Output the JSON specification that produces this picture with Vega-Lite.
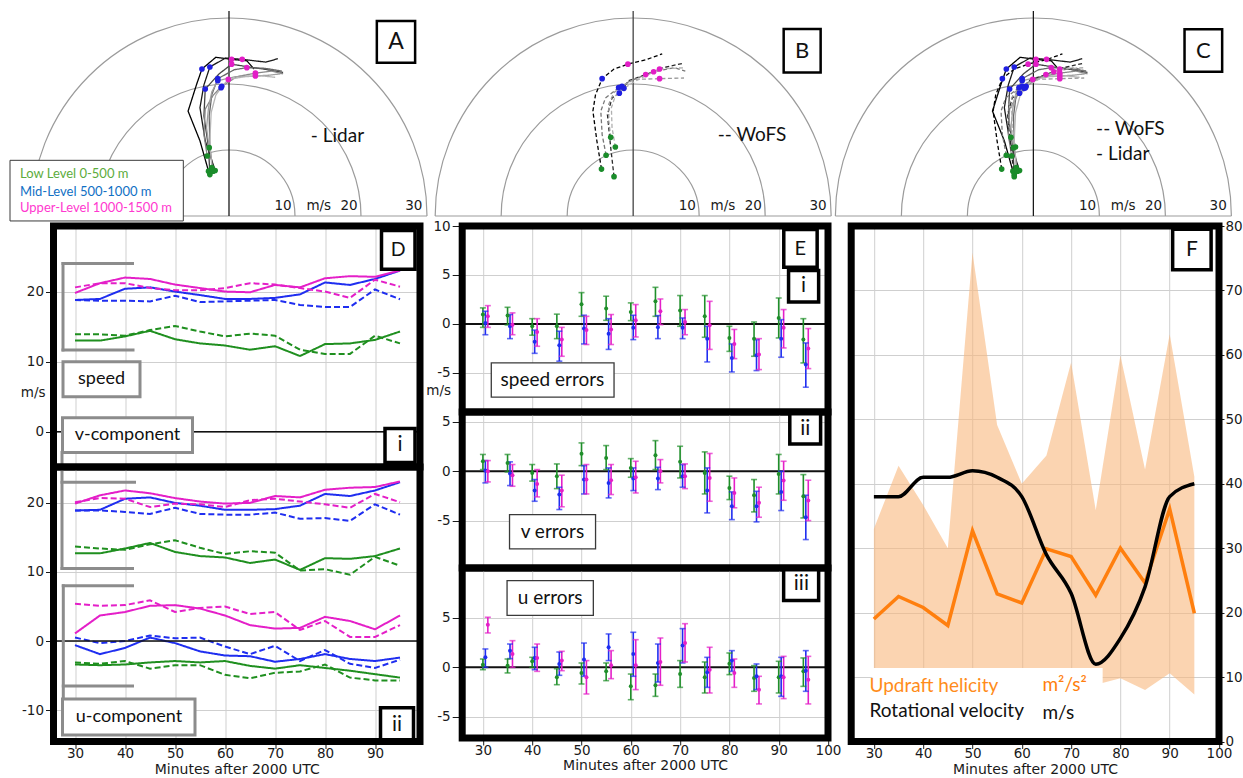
{
"$schema":"https://vega.github.io/schema/vega-lite/v6.json",
"background":"white",
"padding":{"left":9.5,"top":10,"right":0,"bottom":0},
"spacing":-7.3,
"resolve":{"scale":{"color":"independent","fill":"independent","stroke":"independent","opacity":"independent","size":"independent","strokeDash":"independent"}},
"config":{
 "font":"DejaVu Sans",
 "view":{"stroke":null},
 "style":{"cell":{"strokeForeground":true}},
 "axis":{"labelFont":"DejaVu Sans","labelFontSize":13.5,"labelColor":"#1a1a1a","labelFlush":false,"titleFont":"DejaVu Sans","titleFontSize":14,"titleFontWeight":"normal","titleColor":"#1a1a1a","gridColor":"#cfcfcf","gridWidth":1,"tickColor":"#1a1a1a","tickWidth":1,"domain":false},
 "text":{"font":"Lato"}
},
"datasets":{
 "rings":[{"u":0,"v":0,"r":10},{"u":0,"v":0,"r":20},{"u":0,"v":0,"r":30}],
 "hlab":[{"u":8.2,"v":1.45,"s":"10"},{"u":13.6,"v":1.45,"s":"m/s"},{"u":18.2,"v":1.45,"s":"20"},{"u":28.0,"v":1.45,"s":"30"}],
 "hodo":[
  {"tr":"L1","src":"L","k":0,"u":-3.1,"v":6.5,"lvl":"low"},{"tr":"L1","src":"L","k":1,"u":-4.4,"v":10.9},{"tr":"L1","src":"L","k":2,"u":-6.2,"v":15.2},{"tr":"L1","src":"L","k":3,"u":-4.9,"v":19.1},{"tr":"L1","src":"L","k":4,"u":-4.1,"v":21.3,"lvl":"mid"},{"tr":"L1","src":"L","k":5,"u":-2.0,"v":23.0},{"tr":"L1","src":"L","k":6,"u":0.4,"v":22.7,"lvl":"up"},{"tr":"L1","src":"L","k":7,"u":2.7,"v":22.5},{"tr":"L1","src":"L","k":8,"u":3.8,"v":21.3},
  {"tr":"L2","src":"L","k":0,"u":-2.1,"v":6.6,"lvl":"low"},{"tr":"L2","src":"L","k":1,"u":-3.6,"v":10.9},{"tr":"L2","src":"L","k":2,"u":-4.4,"v":15.7},{"tr":"L2","src":"L","k":3,"u":-3.8,"v":19.0},{"tr":"L2","src":"L","k":4,"u":-2.9,"v":21.6,"lvl":"mid"},{"tr":"L2","src":"L","k":5,"u":-0.5,"v":22.9},{"tr":"L2","src":"L","k":6,"u":2.0,"v":22.7,"lvl":"up"},{"tr":"L2","src":"L","k":7,"u":5.6,"v":22.3},{"tr":"L2","src":"L","k":8,"u":7.4,"v":22.8},
  {"tr":"L3","src":"L","k":0,"u":-2.9,"v":6.0,"lvl":"low"},{"tr":"L3","src":"L","k":1,"u":-3.1,"v":9.9},{"tr":"L3","src":"L","k":2,"u":-3.8,"v":14.5},{"tr":"L3","src":"L","k":3,"u":-3.6,"v":18.4,"lvl":"mid"},{"tr":"L3","src":"L","k":4,"u":-1.5,"v":20.6},{"tr":"L3","src":"L","k":5,"u":0.4,"v":22.0,"lvl":"up"},{"tr":"L3","src":"L","k":6,"u":3.0,"v":21.6},{"tr":"L3","src":"L","k":7,"u":5.2,"v":21.3},{"tr":"L3","src":"L","k":8,"u":8.2,"v":20.8},
  {"tr":"L4","src":"L","k":0,"u":-2.4,"v":6.5,"lvl":"low"},{"tr":"L4","src":"L","k":1,"u":-2.9,"v":9.9},{"tr":"L4","src":"L","k":2,"u":-3.0,"v":14.5},{"tr":"L4","src":"L","k":3,"u":-2.6,"v":17.6},{"tr":"L4","src":"L","k":4,"u":-1.7,"v":19.9,"lvl":"mid"},{"tr":"L4","src":"L","k":5,"u":0.8,"v":21.2},{"tr":"L4","src":"L","k":6,"u":2.7,"v":21.5,"lvl":"up"},{"tr":"L4","src":"L","k":7,"u":5.5,"v":21.4},{"tr":"L4","src":"L","k":8,"u":8.0,"v":21.0},
  {"tr":"L5","src":"L","k":0,"u":-3.3,"v":8.7,"lvl":"low"},{"tr":"L5","src":"L","k":1,"u":-3.8,"v":11.8},{"tr":"L5","src":"L","k":2,"u":-3.6,"v":15.5},{"tr":"L5","src":"L","k":3,"u":-2.4,"v":17.5},{"tr":"L5","src":"L","k":4,"u":-1.1,"v":18.8,"lvl":"mid"},{"tr":"L5","src":"L","k":5,"u":1.2,"v":20.2},{"tr":"L5","src":"L","k":6,"u":4.0,"v":20.7,"lvl":"up"},{"tr":"L5","src":"L","k":7,"u":6.5,"v":21.0},{"tr":"L5","src":"L","k":8,"u":8.2,"v":20.6},
  {"tr":"L6","src":"L","k":0,"u":-3.0,"v":9.9,"lvl":"low"},{"tr":"L6","src":"L","k":1,"u":-3.4,"v":12.8},{"tr":"L6","src":"L","k":2,"u":-3.1,"v":15.7},{"tr":"L6","src":"L","k":3,"u":-2.6,"v":18.0},{"tr":"L6","src":"L","k":4,"u":-1.7,"v":19.6,"lvl":"mid"},{"tr":"L6","src":"L","k":5,"u":1.0,"v":20.2},{"tr":"L6","src":"L","k":6,"u":4.0,"v":20.3,"lvl":"up"},{"tr":"L6","src":"L","k":7,"u":6.0,"v":20.4},{"tr":"L6","src":"L","k":8,"u":7.8,"v":20.6},
  {"tr":"L7","src":"L","k":0,"u":-2.6,"v":7.0,"lvl":"low"},{"tr":"L7","src":"L","k":1,"u":-2.9,"v":11.0},{"tr":"L7","src":"L","k":2,"u":-2.7,"v":15.0},{"tr":"L7","src":"L","k":3,"u":-2.0,"v":17.5},{"tr":"L7","src":"L","k":4,"u":-1.2,"v":18.6,"lvl":"mid"},{"tr":"L7","src":"L","k":5,"u":-0.1,"v":19.8,"lvl":"up"},{"tr":"L7","src":"L","k":6,"u":2.5,"v":20.2},{"tr":"L7","src":"L","k":7,"u":5.0,"v":20.3},{"tr":"L7","src":"L","k":8,"u":7.0,"v":20.1},
  {"tr":"W1","src":"W","k":0,"u":-4.8,"v":6.8,"lvl":"low"},{"tr":"W1","src":"W","k":1,"u":-5.5,"v":10.9},{"tr":"W1","src":"W","k":2,"u":-6.1,"v":15.2},{"tr":"W1","src":"W","k":3,"u":-5.7,"v":17.6},{"tr":"W1","src":"W","k":4,"u":-4.7,"v":19.9,"lvl":"mid"},{"tr":"W1","src":"W","k":5,"u":-2.9,"v":21.3},{"tr":"W1","src":"W","k":6,"u":-0.8,"v":22.0,"lvl":"up"},{"tr":"W1","src":"W","k":7,"u":2.1,"v":22.7},{"tr":"W1","src":"W","k":8,"u":4.4,"v":23.5},
  {"tr":"W2","src":"W","k":0,"u":-2.9,"v":5.7,"lvl":"low"},{"tr":"W2","src":"W","k":1,"u":-3.4,"v":9.9},{"tr":"W2","src":"W","k":2,"u":-3.9,"v":14.7},{"tr":"W2","src":"W","k":3,"u":-3.2,"v":17.1},{"tr":"W2","src":"W","k":4,"u":-2.1,"v":17.8,"lvl":"mid"},{"tr":"W2","src":"W","k":5,"u":-0.7,"v":19.6},{"tr":"W2","src":"W","k":6,"u":1.9,"v":20.5,"lvl":"up"},{"tr":"W2","src":"W","k":7,"u":4.6,"v":21.5},{"tr":"W2","src":"W","k":8,"u":7.4,"v":22.1},
  {"tr":"W3","src":"W","k":0,"u":-4.1,"v":8.8,"lvl":"low"},{"tr":"W3","src":"W","k":1,"u":-4.7,"v":11.8},{"tr":"W3","src":"W","k":2,"u":-4.9,"v":15.2},{"tr":"W3","src":"W","k":3,"u":-4.2,"v":17.1},{"tr":"W3","src":"W","k":4,"u":-2.2,"v":18.6,"lvl":"mid"},{"tr":"W3","src":"W","k":5,"u":-0.4,"v":19.6},{"tr":"W3","src":"W","k":6,"u":3.1,"v":20.9,"lvl":"up"},{"tr":"W3","src":"W","k":7,"u":6.2,"v":21.5},{"tr":"W3","src":"W","k":8,"u":7.9,"v":21.0},
  {"tr":"W4","src":"W","k":0,"u":-3.4,"v":11.4,"lvl":"low"},{"tr":"W4","src":"W","k":1,"u":-3.7,"v":13.8},{"tr":"W4","src":"W","k":2,"u":-3.7,"v":16.2},{"tr":"W4","src":"W","k":3,"u":-2.9,"v":17.9},{"tr":"W4","src":"W","k":4,"u":-1.7,"v":18.8,"lvl":"mid"},{"tr":"W4","src":"W","k":5,"u":0.1,"v":19.8},{"tr":"W4","src":"W","k":6,"u":4.0,"v":19.9,"lvl":"up"},{"tr":"W4","src":"W","k":7,"u":7.7,"v":20.0},
  {"tr":"W5","src":"W","k":0,"u":-2.7,"v":10.0,"lvl":"low"},{"tr":"W5","src":"W","k":1,"u":-3.2,"v":12.8},{"tr":"W5","src":"W","k":2,"u":-3.3,"v":15.7},{"tr":"W5","src":"W","k":3,"u":-2.7,"v":17.4},{"tr":"W5","src":"W","k":4,"u":-1.4,"v":18.5,"lvl":"mid"},{"tr":"W5","src":"W","k":5,"u":0.4,"v":19.6},{"tr":"W5","src":"W","k":6,"u":4.0,"v":21.3,"lvl":"up"},{"tr":"W5","src":"W","k":7,"u":7.9,"v":21.5}
 ],
 "dd":[
  {"c":"s","t":30,"gL":13.0,"gW":13.9,"bL":18.8,"bW":18.8,"mL":19.8,"mW":20.6},
  {"c":"s","t":35,"gL":13.0,"gW":13.9,"bL":18.95,"bW":18.7,"mL":21.2,"mW":21.2},
  {"c":"s","t":40,"gL":13.6,"gW":13.7,"bL":20.4,"bW":18.7,"mL":22.0,"mW":21.2},
  {"c":"s","t":45,"gL":14.4,"gW":14.5,"bL":20.6,"bW":18.6,"mL":21.8,"mW":20.5},
  {"c":"s","t":50,"gL":13.2,"gW":15.1,"bL":20.0,"bW":19.4,"mL":21.0,"mW":20.2},
  {"c":"s","t":55,"gL":12.6,"gW":14.3,"bL":19.5,"bW":18.5,"mL":20.5,"mW":20.2},
  {"c":"s","t":60,"gL":12.3,"gW":13.6,"bL":18.95,"bW":18.6,"mL":20.0,"mW":20.5},
  {"c":"s","t":65,"gL":11.7,"gW":14.0,"bL":18.95,"bW":18.7,"mL":19.9,"mW":21.2},
  {"c":"s","t":70,"gL":12.2,"gW":13.7,"bL":19.1,"bW":18.8,"mL":20.95,"mW":21.0},
  {"c":"s","t":75,"gL":10.8,"gW":11.7,"bL":19.6,"bW":18.1,"mL":20.6,"mW":20.5},
  {"c":"s","t":80,"gL":12.5,"gW":11.1,"bL":21.3,"bW":17.8,"mL":21.9,"mW":20.0},
  {"c":"s","t":85,"gL":12.6,"gW":11.1,"bL":20.95,"bW":17.8,"mL":22.2,"mW":19.1},
  {"c":"s","t":90,"gL":13.1,"gW":13.7,"bL":21.8,"bW":20.3,"mL":22.1,"mW":21.7},
  {"c":"s","t":95,"gL":14.3,"gW":12.6,"bL":23.0,"bW":18.9,"mL":23.0,"mW":20.7},
  {"c":"v","t":30,"gL":12.7,"gW":13.7,"bL":18.9,"bW":18.9,"mL":19.9,"mW":20.1},
  {"c":"v","t":35,"gL":12.7,"gW":13.4,"bL":19.0,"bW":18.9,"mL":21.1,"mW":20.7},
  {"c":"v","t":40,"gL":13.4,"gW":13.2,"bL":20.6,"bW":18.7,"mL":21.8,"mW":20.6},
  {"c":"v","t":45,"gL":14.2,"gW":14.0,"bL":20.8,"bW":18.4,"mL":21.4,"mW":19.4},
  {"c":"v","t":50,"gL":12.9,"gW":14.6,"bL":20.0,"bW":19.3,"mL":20.7,"mW":19.9},
  {"c":"v","t":55,"gL":12.3,"gW":13.5,"bL":19.6,"bW":18.4,"mL":20.2,"mW":19.8},
  {"c":"v","t":60,"gL":12.1,"gW":12.6,"bL":19.0,"bW":18.3,"mL":19.9,"mW":19.4},
  {"c":"v","t":65,"gL":11.3,"gW":13.0,"bL":19.0,"bW":18.3,"mL":20.0,"mW":20.4},
  {"c":"v","t":70,"gL":11.8,"gW":12.8,"bL":19.1,"bW":18.6,"mL":21.0,"mW":20.6},
  {"c":"v","t":75,"gL":10.3,"gW":10.2,"bL":19.6,"bW":17.7,"mL":20.8,"mW":20.2},
  {"c":"v","t":80,"gL":12.0,"gW":10.4,"bL":21.3,"bW":17.8,"mL":21.9,"mW":19.8},
  {"c":"v","t":85,"gL":11.9,"gW":9.6,"bL":21.0,"bW":17.4,"mL":22.2,"mW":19.3},
  {"c":"v","t":90,"gL":12.3,"gW":12.2,"bL":21.8,"bW":19.8,"mL":22.3,"mW":21.3},
  {"c":"v","t":95,"gL":13.4,"gW":10.9,"bL":23.0,"bW":18.3,"mL":23.1,"mW":20.1},
  {"c":"u","t":30,"gL":-3.4,"gW":-3.1,"bL":-0.6,"bW":0.5,"mL":1.1,"mW":5.4},
  {"c":"u","t":35,"gL":-3.5,"gW":-3.3,"bL":-1.9,"bW":-0.3,"mL":3.7,"mW":5.1},
  {"c":"u","t":40,"gL":-3.4,"gW":-2.9,"bL":-1.0,"bW":0.0,"mL":4.2,"mW":5.2},
  {"c":"u","t":45,"gL":-3.1,"gW":-4.0,"bL":0.5,"bW":0.8,"mL":5.1,"mW":5.9},
  {"c":"u","t":50,"gL":-2.9,"gW":-3.5,"bL":-0.3,"bW":0.4,"mL":5.2,"mW":4.2},
  {"c":"u","t":55,"gL":-3.1,"gW":-3.5,"bL":-1.5,"bW":0.5,"mL":4.7,"mW":4.8},
  {"c":"u","t":60,"gL":-2.9,"gW":-4.9,"bL":-2.1,"bW":-0.8,"mL":3.7,"mW":5.0},
  {"c":"u","t":65,"gL":-3.6,"gW":-5.4,"bL":-2.2,"bW":-1.9,"mL":2.3,"mW":3.9},
  {"c":"u","t":70,"gL":-4.0,"gW":-4.6,"bL":-3.0,"bW":-0.7,"mL":1.8,"mW":4.2},
  {"c":"u","t":75,"gL":-3.5,"gW":-4.4,"bL":-2.6,"bW":-2.9,"mL":1.9,"mW":1.6},
  {"c":"u","t":80,"gL":-3.9,"gW":-3.4,"bL":-1.9,"bW":-1.3,"mL":3.5,"mW":2.9},
  {"c":"u","t":85,"gL":-4.3,"gW":-5.3,"bL":-2.6,"bW":-3.3,"mL":2.9,"mW":0.6},
  {"c":"u","t":90,"gL":-4.8,"gW":-5.7,"bL":-2.9,"bW":-3.9,"mL":1.7,"mW":0.6},
  {"c":"u","t":95,"gL":-5.3,"gW":-5.7,"bL":-2.4,"bW":-2.7,"mL":3.7,"mW":2.3}
 ],
 "ee":[
  {"p":"s","t":30,"c":"g","m":0.96,"h":1.64,"l":-0.35},{"p":"s","t":30.5,"c":"b","m":0.1,"h":1.3,"l":-1.1},{"p":"s","t":31,"c":"m","m":0.78,"h":1.87,"l":-0.35},
  {"p":"s","t":35,"c":"g","m":0.85,"h":1.7,"l":-0.1},{"p":"s","t":35.5,"c":"b","m":-0.24,"h":0.96,"l":-1.5},{"p":"s","t":36,"c":"m","m":-0.07,"h":1.13,"l":-1.1},
  {"p":"s","t":40,"c":"g","m":-0.24,"h":0.54,"l":-1.15},{"p":"s","t":40.5,"c":"b","m":-1.83,"h":-0.63,"l":-3.0},{"p":"s","t":41,"c":"m","m":-0.82,"h":0.54,"l":-2.28},
  {"p":"s","t":45,"c":"g","m":-0.24,"h":1.0,"l":-1.5},{"p":"s","t":45.5,"c":"b","m":-2.17,"h":-0.74,"l":-3.8},{"p":"s","t":46,"c":"m","m":-1.6,"h":-0.35,"l":-3.3},
  {"p":"s","t":50,"c":"g","m":2.0,"h":3.2,"l":0.78},{"p":"s","t":50.5,"c":"b","m":-0.47,"h":0.89,"l":-2.04},{"p":"s","t":51,"c":"m","m":-0.63,"h":0.78,"l":-2.1},
  {"p":"s","t":55,"c":"g","m":1.57,"h":2.83,"l":0.37},{"p":"s","t":55.5,"c":"b","m":-1.0,"h":0.54,"l":-2.6},{"p":"s","t":56,"c":"m","m":-0.56,"h":0.96,"l":-2.1},
  {"p":"s","t":60,"c":"g","m":1.23,"h":2.15,"l":0.34},{"p":"s","t":60.5,"c":"b","m":-0.4,"h":0.89,"l":-1.6},{"p":"s","t":61,"c":"m","m":0.37,"h":1.98,"l":-1.33},
  {"p":"s","t":65,"c":"g","m":2.31,"h":3.74,"l":0.78},{"p":"s","t":65.5,"c":"b","m":-0.35,"h":0.85,"l":-1.5},{"p":"s","t":66,"c":"m","m":1.3,"h":2.55,"l":-0.07},
  {"p":"s","t":70,"c":"g","m":1.37,"h":2.9,"l":-0.24},{"p":"s","t":70.5,"c":"b","m":-0.4,"h":0.61,"l":-1.5},{"p":"s","t":71,"c":"m","m":0.2,"h":1.47,"l":-1.1},
  {"p":"s","t":75,"c":"g","m":0.78,"h":2.9,"l":-1.36},{"p":"s","t":75.5,"c":"b","m":-1.5,"h":-0.24,"l":-3.88},{"p":"s","t":76,"c":"m","m":-0.14,"h":2.31,"l":-2.6},
  {"p":"s","t":80,"c":"g","m":-1.43,"h":-0.24,"l":-2.8},{"p":"s","t":80.5,"c":"b","m":-3.47,"h":-2.04,"l":-4.9},{"p":"s","t":81,"c":"m","m":-2.04,"h":-0.56,"l":-3.54},
  {"p":"s","t":85,"c":"g","m":-1.5,"h":0.2,"l":-3.3},{"p":"s","t":85.5,"c":"b","m":-3.2,"h":-1.6,"l":-4.76},{"p":"s","t":86,"c":"m","m":-3.13,"h":-1.5,"l":-4.66},
  {"p":"s","t":90,"c":"g","m":0.61,"h":2.65,"l":-1.43},{"p":"s","t":90.5,"c":"b","m":-1.5,"h":0.44,"l":-3.4},{"p":"s","t":91,"c":"m","m":-0.4,"h":1.47,"l":-2.45},
  {"p":"s","t":95,"c":"g","m":-1.6,"h":0.54,"l":-3.98},{"p":"s","t":95.5,"c":"b","m":-4.15,"h":-1.94,"l":-6.46},{"p":"s","t":96,"c":"m","m":-2.51,"h":-0.47,"l":-4.56},
  {"p":"v","t":30,"c":"g","m":1.01,"h":1.7,"l":0.17},{"p":"v","t":30.5,"c":"b","m":0.07,"h":1.08,"l":-1.18},{"p":"v","t":31,"c":"m","m":0,"h":1.08,"l":-1.08},
  {"p":"v","t":35,"c":"g","m":0.84,"h":1.7,"l":-0.07},{"p":"v","t":35.5,"c":"b","m":-0.24,"h":0.95,"l":-1.45},{"p":"v","t":36,"c":"m","m":-0.4,"h":0.68,"l":-1.52},
  {"p":"v","t":40,"c":"g","m":-0.17,"h":0.68,"l":-1.0},{"p":"v","t":40.5,"c":"b","m":-1.96,"h":-0.84,"l":-3.04},{"p":"v","t":41,"c":"m","m":-1.28,"h":0.17,"l":-2.6},
  {"p":"v","t":45,"c":"g","m":-0.5,"h":0.74,"l":-1.76},{"p":"v","t":45.5,"c":"b","m":-2.36,"h":-1.62,"l":-3.88},{"p":"v","t":46,"c":"m","m":-1.96,"h":-0.4,"l":-3.6},
  {"p":"v","t":50,"c":"g","m":1.76,"h":2.87,"l":0.57},{"p":"v","t":50.5,"c":"b","m":-0.84,"h":0.57,"l":-2.3},{"p":"v","t":51,"c":"m","m":-0.84,"h":0.68,"l":-2.3},
  {"p":"v","t":55,"c":"g","m":1.35,"h":2.6,"l":0.17},{"p":"v","t":55.5,"c":"b","m":-1.18,"h":0.34,"l":-2.7},{"p":"v","t":56,"c":"m","m":-0.91,"h":0.68,"l":-2.36},
  {"p":"v","t":60,"c":"g","m":0.34,"h":1.28,"l":-0.61},{"p":"v","t":60.5,"c":"b","m":-0.74,"h":0.34,"l":-1.96},{"p":"v","t":61,"c":"m","m":-0.61,"h":1.01,"l":-2.2},
  {"p":"v","t":65,"c":"g","m":1.62,"h":3.1,"l":0.17},{"p":"v","t":65.5,"c":"b","m":-0.74,"h":0.4,"l":-1.86},{"p":"v","t":66,"c":"m","m":0,"h":1.18,"l":-1.18},
  {"p":"v","t":70,"c":"g","m":0.95,"h":2.53,"l":-0.68},{"p":"v","t":70.5,"c":"b","m":-0.5,"h":0.68,"l":-1.62},{"p":"v","t":71,"c":"m","m":-0.5,"h":0.74,"l":-1.76},
  {"p":"v","t":75,"c":"g","m":-0.17,"h":1.96,"l":-2.3},{"p":"v","t":75.5,"c":"b","m":-1.96,"h":0.34,"l":-4.22},{"p":"v","t":76,"c":"m","m":-0.68,"h":1.8,"l":-3.04},
  {"p":"v","t":80,"c":"g","m":-1.69,"h":-0.5,"l":-2.87},{"p":"v","t":80.5,"c":"b","m":-3.55,"h":-2.09,"l":-4.9},{"p":"v","t":81,"c":"m","m":-2.2,"h":-0.68,"l":-3.7},
  {"p":"v","t":85,"c":"g","m":-2.43,"h":-0.84,"l":-4.12},{"p":"v","t":85.5,"c":"b","m":-3.55,"h":-2.03,"l":-5.13},{"p":"v","t":86,"c":"m","m":-3.2,"h":-1.62,"l":-4.66},
  {"p":"v","t":90,"c":"g","m":-0.27,"h":1.7,"l":-2.3},{"p":"v","t":90.5,"c":"b","m":-2.09,"h":0,"l":-3.98},{"p":"v","t":91,"c":"m","m":-0.95,"h":1.01,"l":-2.94},
  {"p":"v","t":95,"c":"g","m":-2.53,"h":-0.34,"l":-4.73},{"p":"v","t":95.5,"c":"b","m":-4.66,"h":-2.43,"l":-6.92},{"p":"v","t":96,"c":"m","m":-2.97,"h":-0.91,"l":-5.0},
  {"p":"u","t":30,"c":"g","m":0.27,"h":0.84,"l":-0.24},{"p":"u","t":30.5,"c":"b","m":1.01,"h":1.86,"l":0},{"p":"u","t":31,"c":"m","m":4.32,"h":5.07,"l":3.48},
  {"p":"u","t":35,"c":"g","m":0.17,"h":0.84,"l":-0.57},{"p":"u","t":35.5,"c":"b","m":1.69,"h":2.36,"l":0.88},{"p":"u","t":36,"c":"m","m":1.35,"h":2.7,"l":0},
  {"p":"u","t":40,"c":"g","m":0.61,"h":1.01,"l":0},{"p":"u","t":40.5,"c":"b","m":0.95,"h":2.03,"l":-0.24},{"p":"u","t":41,"c":"m","m":0.95,"h":2.36,"l":-0.41},
  {"p":"u","t":45,"c":"g","m":-1.01,"h":-0.14,"l":-1.76},{"p":"u","t":45.5,"c":"b","m":0.34,"h":1.55,"l":-0.81},{"p":"u","t":46,"c":"m","m":0.68,"h":1.62,"l":-0.34},
  {"p":"u","t":50,"c":"g","m":-0.57,"h":0.44,"l":-1.69},{"p":"u","t":50.5,"c":"b","m":0.78,"h":2.46,"l":-0.91},{"p":"u","t":51,"c":"m","m":-1.01,"h":0.68,"l":-2.7},
  {"p":"u","t":55,"c":"g","m":-0.41,"h":0.44,"l":-1.35},{"p":"u","t":55.5,"c":"b","m":2.03,"h":3.38,"l":0.68},{"p":"u","t":56,"c":"m","m":0.2,"h":1.69,"l":-1.15},
  {"p":"u","t":60,"c":"g","m":-1.93,"h":-0.68,"l":-3.28},{"p":"u","t":60.5,"c":"b","m":1.35,"h":3.55,"l":-0.91},{"p":"u","t":61,"c":"m","m":0.2,"h":2.8,"l":-2.26},
  {"p":"u","t":65,"c":"g","m":-1.82,"h":-0.68,"l":-2.94},{"p":"u","t":65.5,"c":"b","m":0.44,"h":2.36,"l":-1.49},{"p":"u","t":66,"c":"m","m":0.54,"h":2.97,"l":-1.82},
  {"p":"u","t":70,"c":"g","m":-0.68,"h":0.68,"l":-2.03},{"p":"u","t":70.5,"c":"b","m":2.2,"h":3.92,"l":0.44},{"p":"u","t":71,"c":"m","m":2.46,"h":4.42,"l":0.54},
  {"p":"u","t":75,"c":"g","m":-1.01,"h":0.54,"l":-2.6},{"p":"u","t":75.5,"c":"b","m":-0.51,"h":1.01,"l":-2.03},{"p":"u","t":76,"c":"m","m":-0.24,"h":2.03,"l":-2.6},
  {"p":"u","t":80,"c":"g","m":0.37,"h":1.45,"l":-0.74},{"p":"u","t":80.5,"c":"b","m":0.68,"h":1.69,"l":-0.41},{"p":"u","t":81,"c":"m","m":-0.57,"h":0.84,"l":-2.03},
  {"p":"u","t":85,"c":"g","m":-1.08,"h":0.17,"l":-2.43},{"p":"u","t":85.5,"c":"b","m":-0.91,"h":0.34,"l":-2.26},{"p":"u","t":86,"c":"m","m":-2.26,"h":-0.91,"l":-3.71},
  {"p":"u","t":90,"c":"g","m":-1.01,"h":0.61,"l":-2.6},{"p":"u","t":90.5,"c":"b","m":-0.91,"h":1.01,"l":-2.94},{"p":"u","t":91,"c":"m","m":-1.01,"h":1.11,"l":-3.17},
  {"p":"u","t":95,"c":"g","m":-0.41,"h":0.95,"l":-1.93},{"p":"u","t":95.5,"c":"b","m":-0.34,"h":1.69,"l":-2.43},{"p":"u","t":96,"c":"m","m":-1.25,"h":1.11,"l":-3.71}
 ],
 "ff":[
  {"t":30,"rv":38,"uh":19.0,"lo":11,"hi":33.0},{"t":35,"rv":38,"uh":22.5,"lo":11,"hi":42.8},{"t":40,"rv":41,"uh":20.8,"lo":10,"hi":36.7},{"t":45,"rv":41,"uh":18.0,"lo":11,"hi":30.0},{"t":50,"rv":42,"uh":32.7,"lo":10,"hi":75.9},{"t":55,"rv":41,"uh":22.9,"lo":10,"hi":49.1},{"t":60,"rv":38,"uh":21.5,"lo":10,"hi":40.0},{"t":65,"rv":29,"uh":29.9,"lo":11,"hi":44.4},{"t":70,"rv":23,"uh":28.7,"lo":10,"hi":58.8},{"t":75,"rv":12,"uh":22.7,"lo":8.8,"hi":35.9},{"t":80,"rv":16,"uh":30.0,"lo":9.8,"hi":59.9},{"t":85,"rv":24,"uh":24.6,"lo":8.0,"hi":42.2},{"t":90,"rv":38,"uh":36.1,"lo":10.6,"hi":63.2},{"t":95,"rv":40,"uh":19.9,"lo":7.3,"hi":41.1}
 ]
},
"hconcat":[
 {"vconcat":[
  {"width":373.5,"height":214.5,
   "encoding":{"x":{"field":"u","type":"quantitative","scale":{"domain":[-26.59,30],"nice":false,"zero":false},"axis":null},"y":{"field":"v","type":"quantitative","scale":{"domain":[-1.377,29.71],"nice":false,"zero":false},"axis":null}},
   "layer":[
    {"data":{"name":"rings"},"mark":{"type":"arc","theta":-1.5708,"theta2":1.5708,"filled":false,"stroke":"#9b9b9b","strokeWidth":1.2},"encoding":{"radius":{"field":"r","type":"quantitative","scale":{"type":"linear","domain":[0,30],"range":[0,198],"zero":true}},"radius2":{"field":"r"}}},
    {"data":{"values":[{"u":-30,"u2":30,"v":0}]},"mark":{"type":"rule","stroke":"#9b9b9b","strokeWidth":1.2},"encoding":{"x2":{"field":"u2"}}},
    {"data":{"values":[{"u":0,"v":0,"v2":29.71}]},"mark":{"type":"rule","stroke":"#1a1a1a","strokeWidth":1.3},"encoding":{"y2":{"field":"v2"}}},
    {"data":{"name":"hodo"},"transform":[{"filter":"datum.src=='L'"}],"mark":{"type":"line","strokeWidth":1.3},"encoding":{"detail":{"field":"tr","type":"nominal"},"order":{"field":"k","type":"quantitative"},"stroke":{"field":"tr","type":"nominal","scale":{"domain":["L1","L2","L3","L4","L5","L6","L7","W1","W2","W3","W4","W5"],"range":["#000000","#1a1a1a","#444444","#666666","#888888","#a0a0a0","#b5b5b5","#000000","#2a2a2a","#777777","#9a9a9a","#b0b0b0"]},"legend":null},"strokeDash":{"field":"src","type":"nominal","scale":{"domain":["L","W"],"range":[[1,0],[4,2.5]]},"legend":null}}},
    {"data":{"name":"hodo"},"transform":[{"filter":"datum.src=='L' && datum.lvl"}],"mark":{"type":"point","filled":true,"size":32,"strokeWidth":0},"encoding":{"fill":{"field":"lvl","type":"nominal","scale":{"domain":["low","mid","up"],"range":["#1a8c2a","#1f1fe0","#e21ec6"]},"legend":null},"opacity":{"field":"tr","type":"ordinal","scale":{"domain":["L1","L2","L3","L4","L5","L6","L7","W1","W2","W3","W4","W5"],"range":[1,1,0.95,0.55,0.5,0.45,0.45,1,1,0.55,0.5,0.45]},"legend":null}}},
    {"data":{"name":"hlab"},"mark":{"type":"text","font":"DejaVu Sans","fontSize":13.5,"color":"#1a1a1a","baseline":"middle"},"encoding":{"text":{"field":"s"}}},
    {"data":{"values":[{"u":12.4,"v":11.6,"s":"- Lidar"}]},"mark":{"type":"text","fontSize":19,"align":"left","baseline":"middle","color":"#111111"},"encoding":{"text":{"field":"s"}}},
    {"data":{"values":[{"u":22.4,"u2":28.2,"v":22.2,"v2":28.26}]},"mark":{"type":"rect","fill":"white","stroke":"black","strokeWidth":2.5},"encoding":{"x2":{"field":"u2"},"y2":{"field":"v2"}}},
    {"data":{"values":[{"u":25.3,"v":25.2,"s":"A"}]},"mark":{"type":"text","fontSize":23,"baseline":"middle","color":"#111111"},"encoding":{"text":{"field":"s"}}},
    {"data":{"values":[{"u":-33.18,"u2":-6.92,"v":-0.72,"v2":8.07}]},"mark":{"type":"rect","fill":"white","stroke":"#3a3a3a","strokeWidth":1},"encoding":{"x2":{"field":"u2"},"y2":{"field":"v2"}}},
    {"data":{"values":[{"u":-31.67,"v":6.04,"s":"Low Level 0-500 m","c":"a"},{"u":-31.67,"v":3.52,"s":"Mid-Level 500-1000 m","c":"b"},{"u":-31.67,"v":1.11,"s":"Upper-Level 1000-1500 m","c":"c"}]},"mark":{"type":"text","fontSize":13,"align":"left","baseline":"middle"},"encoding":{"text":{"field":"s"},"color":{"field":"c","type":"nominal","scale":{"domain":["a","b","c"],"range":["#5cac3c","#1070c4","#ff38cf"]},"legend":null}}}
   ]},
  {"width":366.5,"height":241,"view":{"stroke":"black","strokeWidth":7},
   "layer":[
    {"data":{"name":"dd"},"transform":[{"filter":"datum.c=='s'"},{"fold":["gL","gW","bL","bW","mL","mW"],"as":["k","val"]}],"mark":{"type":"line","strokeWidth":2},
     "encoding":{
      "x":{"field":"t","type":"quantitative","scale":{"domain":[25.7,99],"nice":false,"zero":false},"axis":{"values":[30,40,50,60,70,80,90],"grid":true,"labels":false,"ticks":false,"title":null}},
      "y":{"field":"val","type":"quantitative","scale":{"domain":[-5.04,29.36],"nice":false,"zero":false},"axis":{"values":[0,10,20],"grid":true,"tickSize":8,"labelPadding":2,"title":"m/s","titleAngle":0,"titleAlign":"right","titleBaseline":"middle","titleX":-8.5,"titleY":166.5,"titleFontSize":13.5}},
      "color":{"field":"k","type":"nominal","scale":{"domain":["gL","gW","bL","bW","mL","mW"],"range":["#1f8f1f","#1f8f1f","#1f2ef0","#1f2ef0","#e41fc8","#e41fc8"]},"legend":null},
      "strokeDash":{"field":"k","type":"nominal","scale":{"domain":["gL","gW","bL","bW","mL","mW"],"range":[[1,0],[6,3],[1,0],[6,3],[1,0],[6,3]]},"legend":null}}},
    {"data":{"values":[{"t":25.7,"t2":99,"val":0}]},"mark":{"type":"rule","stroke":"#111111","strokeWidth":1.5},"encoding":{"x":{"field":"t","type":"quantitative"},"x2":{"field":"t2"},"y":{"field":"val","type":"quantitative"}}},
    {"data":{"values":[{"t":27.6,"t2":27.6,"val":24.0,"val2":11.67},{"t":27.6,"t2":41.5,"val":24.0,"val2":24.0},{"t":27.6,"t2":41.6,"val":11.67,"val2":11.67},{"t":27.4,"t2":27.4,"val":-2.96,"val2":-5.04}]},"mark":{"type":"rule","stroke":"#8c8c8c","strokeWidth":3,"strokeCap":"square"},"encoding":{"x":{"field":"t","type":"quantitative"},"x2":{"field":"t2"},"y":{"field":"val","type":"quantitative"},"y2":{"field":"val2"}}},
    {"data":{"values":[{"t":27.6,"t2":43.0,"val":5.0,"val2":10.0},{"t":27.5,"t2":53.5,"val":-2.96,"val2":2.0}]},"mark":{"type":"rect","fill":"white","stroke":"#8c8c8c","strokeWidth":3},"encoding":{"x":{"field":"t","type":"quantitative"},"x2":{"field":"t2"},"y":{"field":"val","type":"quantitative"},"y2":{"field":"val2"}}},
    {"data":{"values":[{"t":91.3,"t2":98.0,"val":23.2,"val2":28.7},{"t":92.0,"t2":98.0,"val":-4.39,"val2":0.47}]},"mark":{"type":"rect","fill":"white","stroke":"black","strokeWidth":3.5},"encoding":{"x":{"field":"t","type":"quantitative"},"x2":{"field":"t2"},"y":{"field":"val","type":"quantitative"},"y2":{"field":"val2"}}},
    {"data":{"values":[{"t":35.3,"val":7.5,"s":"speed","k":"a"},{"t":40.5,"val":-0.5,"s":"v-component","k":"a"},{"t":94.65,"val":25.95,"s":"D","k":"b"},{"t":95.0,"val":-1.96,"s":"i","k":"c"}]},"mark":{"type":"text","baseline":"middle","color":"#111111"},"encoding":{"x":{"field":"t","type":"quantitative"},"y":{"field":"val","type":"quantitative"},"text":{"field":"s"},"size":{"field":"k","type":"ordinal","scale":{"domain":["a","b","c"],"range":[18,21,16]},"legend":null}}}
   ]},
  {"width":366.5,"height":274.5,"view":{"stroke":"black","strokeWidth":7},
   "layer":[
    {"data":{"name":"dd"},"transform":[{"filter":"datum.c!='s'"},{"fold":["gL","gW","bL","bW","mL","mW"],"as":["k","val"]}],"mark":{"type":"line","strokeWidth":2},
     "encoding":{
      "x":{"field":"t","type":"quantitative","scale":{"domain":[25.7,99],"nice":false,"zero":false},"axis":{"values":[30,40,50,60,70,80,90],"grid":true,"title":"Minutes after 2000 UTC","tickSize":7,"labelPadding":-2,"titlePadding":2}},
      "y":{"field":"val","type":"quantitative","scale":{"domain":[-14.55,25.2],"nice":false,"zero":false},"axis":{"values":[-10,0,10,20],"grid":true,"tickSize":8,"labelPadding":2,"title":null,"labelExpr":"replace(datum.label,'\u2212','-')"}},
      "detail":{"field":"c","type":"nominal"},
      "color":{"field":"k","type":"nominal","scale":{"domain":["gL","gW","bL","bW","mL","mW"],"range":["#1f8f1f","#1f8f1f","#1f2ef0","#1f2ef0","#e41fc8","#e41fc8"]},"legend":null},
      "strokeDash":{"field":"k","type":"nominal","scale":{"domain":["gL","gW","bL","bW","mL","mW"],"range":[[1,0],[6,3],[1,0],[6,3],[1,0],[6,3]]},"legend":null}}},
    {"data":{"values":[{"t":25.7,"t2":99,"val":0}]},"mark":{"type":"rule","stroke":"#111111","strokeWidth":1.5},"encoding":{"x":{"field":"t","type":"quantitative"},"x2":{"field":"t2"},"y":{"field":"val","type":"quantitative"}}},
    {"data":{"values":[{"t":27.4,"t2":27.4,"val":25.2,"val2":10.5},{"t":27.4,"t2":41.9,"val":23.0,"val2":23.0},{"t":27.4,"t2":41.5,"val":10.5,"val2":10.5},{"t":27.66,"t2":27.66,"val":8.0,"val2":-8.4},{"t":27.66,"t2":41.5,"val":8.0,"val2":8.0},{"t":27.66,"t2":41.5,"val":-6.5,"val2":-6.5}]},"mark":{"type":"rule","stroke":"#8c8c8c","strokeWidth":3,"strokeCap":"square"},"encoding":{"x":{"field":"t","type":"quantitative"},"x2":{"field":"t2"},"y":{"field":"val","type":"quantitative"},"y2":{"field":"val2"}}},
    {"data":{"values":[{"t":27.5,"t2":54.0,"val":-13.6,"val2":-8.4}]},"mark":{"type":"rect","fill":"white","stroke":"#8c8c8c","strokeWidth":3},"encoding":{"x":{"field":"t","type":"quantitative"},"x2":{"field":"t2"},"y":{"field":"val","type":"quantitative"},"y2":{"field":"val2"}}},
    {"data":{"values":[{"t":91.1,"t2":97.7,"val":-14.5,"val2":-9.67}]},"mark":{"type":"rect","fill":"white","stroke":"black","strokeWidth":3.5},"encoding":{"x":{"field":"t","type":"quantitative"},"x2":{"field":"t2"},"y":{"field":"val","type":"quantitative"},"y2":{"field":"val2"}}},
    {"data":{"values":[{"t":40.8,"val":-11.0,"s":"u-component","k":"a"},{"t":94.4,"val":-12.1,"s":"ii","k":"c"}]},"mark":{"type":"text","baseline":"middle","color":"#111111"},"encoding":{"x":{"field":"t","type":"quantitative"},"y":{"field":"val","type":"quantitative"},"text":{"field":"s"},"size":{"field":"k","type":"ordinal","scale":{"domain":["a","b","c"],"range":[18,21,16]},"legend":null}}}
   ]}
 ],"spacing":0,"bounds":"flush","resolve":{"scale":{"color":"independent","fill":"independent","stroke":"independent","opacity":"independent","size":"independent","strokeDash":"independent"}}},
 {"hconcat":[
  {"vconcat":[
   {"width":369,"height":214.5,
    "encoding":{"x":{"field":"u","type":"quantitative","scale":{"domain":[-25.9,30],"nice":false,"zero":false},"axis":null},"y":{"field":"v","type":"quantitative","scale":{"domain":[-1.377,29.71],"nice":false,"zero":false},"axis":null}},
    "layer":[
     {"data":{"name":"rings"},"mark":{"type":"arc","theta":-1.5708,"theta2":1.5708,"filled":false,"stroke":"#9b9b9b","strokeWidth":1.2},"encoding":{"radius":{"field":"r","type":"quantitative","scale":{"type":"linear","domain":[0,30],"range":[0,198],"zero":true}},"radius2":{"field":"r"}}},
     {"data":{"values":[{"u":-30,"u2":30,"v":0}]},"mark":{"type":"rule","stroke":"#9b9b9b","strokeWidth":1.2},"encoding":{"x2":{"field":"u2"}}},
     {"data":{"values":[{"u":0,"v":0,"v2":29.71}]},"mark":{"type":"rule","stroke":"#444444","strokeWidth":1.3},"encoding":{"y2":{"field":"v2"}}},
     {"data":{"name":"hodo"},"transform":[{"filter":"datum.src=='W'"}],"mark":{"type":"line","strokeWidth":1.3},"encoding":{"detail":{"field":"tr","type":"nominal"},"order":{"field":"k","type":"quantitative"},"stroke":{"field":"tr","type":"nominal","scale":{"domain":["L1","L2","L3","L4","L5","L6","L7","W1","W2","W3","W4","W5"],"range":["#000000","#1a1a1a","#444444","#666666","#888888","#a0a0a0","#b5b5b5","#000000","#2a2a2a","#777777","#9a9a9a","#b0b0b0"]},"legend":null},"strokeDash":{"field":"src","type":"nominal","scale":{"domain":["L","W"],"range":[[1,0],[4,2.5]]},"legend":null}}},
     {"data":{"name":"hodo"},"transform":[{"filter":"datum.src=='W' && datum.lvl"}],"mark":{"type":"point","filled":true,"size":32,"strokeWidth":0},"encoding":{"fill":{"field":"lvl","type":"nominal","scale":{"domain":["low","mid","up"],"range":["#1a8c2a","#1f1fe0","#e21ec6"]},"legend":null},"opacity":{"field":"tr","type":"ordinal","scale":{"domain":["L1","L2","L3","L4","L5","L6","L7","W1","W2","W3","W4","W5"],"range":[1,1,0.95,0.55,0.5,0.45,0.45,1,1,0.55,0.5,0.45]},"legend":null}}},
     {"data":{"name":"hlab"},"mark":{"type":"text","font":"DejaVu Sans","fontSize":13.5,"color":"#1a1a1a","baseline":"middle"},"encoding":{"text":{"field":"s"}}},
     {"data":{"values":[{"u":12.8,"v":11.7,"s":"-- WoFS"}]},"mark":{"type":"text","fontSize":19,"align":"left","baseline":"middle","color":"#111111"},"encoding":{"text":{"field":"s"}}},
     {"data":{"values":[{"u":22.8,"u2":28.4,"v":20.8,"v2":27.1}]},"mark":{"type":"rect","fill":"white","stroke":"black","strokeWidth":2.5},"encoding":{"x2":{"field":"u2"},"y2":{"field":"v2"}}},
     {"data":{"values":[{"u":25.6,"v":23.95,"s":"B"}]},"mark":{"type":"text","fontSize":22,"baseline":"middle","color":"#111111"},"encoding":{"text":{"field":"s"}}}
    ]},
   {"width":365.8,"height":186,"view":{"stroke":"black","strokeWidth":7},
    "layer":[
     {"data":{"values":[{"t":25.8,"t2":100,"val":0}]},"mark":{"type":"rule","stroke":"#111111","strokeWidth":2},
      "encoding":{"x":{"field":"t","type":"quantitative","scale":{"domain":[25.8,100],"nice":false,"zero":false},"axis":{"values":[30,40,50,60,70,80,90],"grid":true,"labels":false,"ticks":false,"title":null}},"x2":{"field":"t2"},
       "y":{"field":"val","type":"quantitative","scale":{"domain":[-8.99,10],"nice":false,"zero":false},"axis":{"values":[-5,0,5,10],"grid":true,"gridOpacity":{"condition":{"test":"datum.value==10","value":0},"value":1},"tickSize":10,"labelPadding":2,"title":"m/s","titleAngle":0,"titleAlign":"right","titleBaseline":"middle","titleX":-11.7,"titleY":164.5,"titleFontSize":13.5,"labelExpr":"replace(datum.label,'\u2212','-')"}}}},
     {"data":{"name":"ee"},"transform":[{"filter":"datum.p=='s'"}],"mark":{"type":"rule","strokeWidth":1.6},"encoding":{"x":{"field":"t","type":"quantitative"},"y":{"field":"l","type":"quantitative"},"y2":{"field":"h"},"color":{"field":"c","type":"nominal","scale":{"domain":["g","b","m"],"range":["#1f8f2a","#1f2ef0","#e41fc8"]},"legend":null}}},
     {"data":{"name":"ee"},"transform":[{"filter":"datum.p=='s'"}],"mark":{"type":"tick","orient":"horizontal","size":6,"thickness":1.6},"encoding":{"x":{"field":"t","type":"quantitative"},"y":{"field":"l","type":"quantitative"},"color":{"field":"c","type":"nominal","scale":{"domain":["g","b","m"],"range":["#1f8f2a","#1f2ef0","#e41fc8"]},"legend":null}}},
     {"data":{"name":"ee"},"transform":[{"filter":"datum.p=='s'"}],"mark":{"type":"tick","orient":"horizontal","size":6,"thickness":1.6},"encoding":{"x":{"field":"t","type":"quantitative"},"y":{"field":"h","type":"quantitative"},"color":{"field":"c","type":"nominal","scale":{"domain":["g","b","m"],"range":["#1f8f2a","#1f2ef0","#e41fc8"]},"legend":null}}},
     {"data":{"name":"ee"},"transform":[{"filter":"datum.p=='s'"}],"mark":{"type":"circle","size":16,"opacity":1},"encoding":{"x":{"field":"t","type":"quantitative"},"y":{"field":"m","type":"quantitative"},"color":{"field":"c","type":"nominal","scale":{"domain":["g","b","m"],"range":["#1f8f2a","#1f2ef0","#e41fc8"]},"legend":null}}},
     {"data":{"values":[{"t":31.7,"t2":56.6,"val":-7.48,"val2":-3.98}]},"mark":{"type":"rect","fill":"white","stroke":"#3a3a3a","strokeWidth":1.3},"encoding":{"x":{"field":"t","type":"quantitative"},"x2":{"field":"t2"},"y":{"field":"val","type":"quantitative"},"y2":{"field":"val2"}}},
     {"data":{"values":[{"t":91.03,"t2":97.8,"val":5.79,"val2":9.63},{"t":92.0,"t2":98.1,"val":2.24,"val2":5.45}]},"mark":{"type":"rect","fill":"white","stroke":"black","strokeWidth":3.5},"encoding":{"x":{"field":"t","type":"quantitative"},"x2":{"field":"t2"},"y":{"field":"val","type":"quantitative"},"y2":{"field":"val2"}}},
     {"data":{"values":[{"t":44.1,"val":-5.73,"s":"speed errors","k":"a"},{"t":94.4,"val":7.7,"s":"E","k":"b"},{"t":95.05,"val":3.85,"s":"i","k":"c"}]},"mark":{"type":"text","baseline":"middle","color":"#111111"},"encoding":{"x":{"field":"t","type":"quantitative"},"y":{"field":"val","type":"quantitative"},"text":{"field":"s"},"size":{"field":"k","type":"ordinal","scale":{"domain":["a","b","c"],"range":[19,21,16]},"legend":null}}}
    ]},
   {"width":365.8,"height":156,"view":{"stroke":"black","strokeWidth":7},
    "layer":[
     {"data":{"values":[{"t":25.8,"t2":100,"val":0}]},"mark":{"type":"rule","stroke":"#111111","strokeWidth":2},
      "encoding":{"x":{"field":"t","type":"quantitative","scale":{"domain":[25.8,100],"nice":false,"zero":false},"axis":{"values":[30,40,50,60,70,80,90],"grid":true,"labels":false,"ticks":false,"title":null}},"x2":{"field":"t2"},
       "y":{"field":"val","type":"quantitative","scale":{"domain":[-9.8,6.0],"nice":false,"zero":false},"axis":{"values":[-5,0,5],"grid":true,"tickSize":10,"labelPadding":2,"title":null,"labelExpr":"replace(datum.label,'\u2212','-')"}}}},
     {"data":{"name":"ee"},"transform":[{"filter":"datum.p=='v'"}],"mark":{"type":"rule","strokeWidth":1.6},"encoding":{"x":{"field":"t","type":"quantitative"},"y":{"field":"l","type":"quantitative"},"y2":{"field":"h"},"color":{"field":"c","type":"nominal","scale":{"domain":["g","b","m"],"range":["#1f8f2a","#1f2ef0","#e41fc8"]},"legend":null}}},
     {"data":{"name":"ee"},"transform":[{"filter":"datum.p=='v'"}],"mark":{"type":"tick","orient":"horizontal","size":6,"thickness":1.6},"encoding":{"x":{"field":"t","type":"quantitative"},"y":{"field":"l","type":"quantitative"},"color":{"field":"c","type":"nominal","scale":{"domain":["g","b","m"],"range":["#1f8f2a","#1f2ef0","#e41fc8"]},"legend":null}}},
     {"data":{"name":"ee"},"transform":[{"filter":"datum.p=='v'"}],"mark":{"type":"tick","orient":"horizontal","size":6,"thickness":1.6},"encoding":{"x":{"field":"t","type":"quantitative"},"y":{"field":"h","type":"quantitative"},"color":{"field":"c","type":"nominal","scale":{"domain":["g","b","m"],"range":["#1f8f2a","#1f2ef0","#e41fc8"]},"legend":null}}},
     {"data":{"name":"ee"},"transform":[{"filter":"datum.p=='v'"}],"mark":{"type":"circle","size":16,"opacity":1},"encoding":{"x":{"field":"t","type":"quantitative"},"y":{"field":"m","type":"quantitative"},"color":{"field":"c","type":"nominal","scale":{"domain":["g","b","m"],"range":["#1f8f2a","#1f2ef0","#e41fc8"]},"legend":null}}},
     {"data":{"values":[{"t":35.4,"t2":52.85,"val":-7.87,"val2":-4.39}]},"mark":{"type":"rect","fill":"white","stroke":"#3a3a3a","strokeWidth":1.3},"encoding":{"x":{"field":"t","type":"quantitative"},"x2":{"field":"t2"},"y":{"field":"val","type":"quantitative"},"y2":{"field":"val2"}}},
     {"data":{"values":[{"t":92.25,"t2":98.5,"val":2.77,"val2":6.0}]},"mark":{"type":"rect","fill":"white","stroke":"black","strokeWidth":3.5},"encoding":{"x":{"field":"t","type":"quantitative"},"x2":{"field":"t2"},"y":{"field":"val","type":"quantitative"},"y2":{"field":"val2"}}},
     {"data":{"values":[{"t":44.1,"val":-6.13,"s":"v errors","k":"a"},{"t":95.4,"val":4.3,"s":"ii","k":"c"}]},"mark":{"type":"text","baseline":"middle","color":"#111111"},"encoding":{"x":{"field":"t","type":"quantitative"},"y":{"field":"val","type":"quantitative"},"text":{"field":"s"},"size":{"field":"k","type":"ordinal","scale":{"domain":["a","b","c"],"range":[19,21,16]},"legend":null}}}
    ]},
   {"width":365.8,"height":170,"view":{"stroke":"black","strokeWidth":7},
    "layer":[
     {"data":{"values":[{"t":25.8,"t2":100,"val":0}]},"mark":{"type":"rule","stroke":"#111111","strokeWidth":2},
      "encoding":{"x":{"field":"t","type":"quantitative","scale":{"domain":[25.8,100],"nice":false,"zero":false},"axis":{"values":[30,40,50,60,70,80,90,100],"grid":true,"gridOpacity":{"condition":{"test":"datum.value==100","value":0},"value":1},"title":"Minutes after 2000 UTC","tickSize":7,"labelPadding":-2,"titlePadding":2}},"x2":{"field":"t2"},
       "y":{"field":"val","type":"quantitative","scale":{"domain":[-7.16,10.06],"nice":false,"zero":false},"axis":{"values":[-5,0,5],"grid":true,"tickSize":10,"labelPadding":2,"title":null,"labelExpr":"replace(datum.label,'\u2212','-')"}}}},
     {"data":{"name":"ee"},"transform":[{"filter":"datum.p=='u'"}],"mark":{"type":"rule","strokeWidth":1.6},"encoding":{"x":{"field":"t","type":"quantitative"},"y":{"field":"l","type":"quantitative"},"y2":{"field":"h"},"color":{"field":"c","type":"nominal","scale":{"domain":["g","b","m"],"range":["#1f8f2a","#1f2ef0","#e41fc8"]},"legend":null}}},
     {"data":{"name":"ee"},"transform":[{"filter":"datum.p=='u'"}],"mark":{"type":"tick","orient":"horizontal","size":6,"thickness":1.6},"encoding":{"x":{"field":"t","type":"quantitative"},"y":{"field":"l","type":"quantitative"},"color":{"field":"c","type":"nominal","scale":{"domain":["g","b","m"],"range":["#1f8f2a","#1f2ef0","#e41fc8"]},"legend":null}}},
     {"data":{"name":"ee"},"transform":[{"filter":"datum.p=='u'"}],"mark":{"type":"tick","orient":"horizontal","size":6,"thickness":1.6},"encoding":{"x":{"field":"t","type":"quantitative"},"y":{"field":"h","type":"quantitative"},"color":{"field":"c","type":"nominal","scale":{"domain":["g","b","m"],"range":["#1f8f2a","#1f2ef0","#e41fc8"]},"legend":null}}},
     {"data":{"name":"ee"},"transform":[{"filter":"datum.p=='u'"}],"mark":{"type":"circle","size":16,"opacity":1},"encoding":{"x":{"field":"t","type":"quantitative"},"y":{"field":"m","type":"quantitative"},"color":{"field":"c","type":"nominal","scale":{"domain":["g","b","m"],"range":["#1f8f2a","#1f2ef0","#e41fc8"]},"legend":null}}},
     {"data":{"values":[{"t":34.9,"t2":52.4,"val":5.27,"val2":8.78}]},"mark":{"type":"rect","fill":"white","stroke":"#3a3a3a","strokeWidth":1.3},"encoding":{"x":{"field":"t","type":"quantitative"},"x2":{"field":"t2"},"y":{"field":"val","type":"quantitative"},"y2":{"field":"val2"}}},
     {"data":{"values":[{"t":91.0,"t2":98.1,"val":6.76,"val2":10.06}]},"mark":{"type":"rect","fill":"white","stroke":"black","strokeWidth":3.5},"encoding":{"x":{"field":"t","type":"quantitative"},"x2":{"field":"t2"},"y":{"field":"val","type":"quantitative"},"y2":{"field":"val2"}}},
     {"data":{"values":[{"t":43.65,"val":7.0,"s":"u errors","k":"a"},{"t":94.6,"val":8.4,"s":"iii","k":"c"}]},"mark":{"type":"text","baseline":"middle","color":"#111111"},"encoding":{"x":{"field":"t","type":"quantitative"},"y":{"field":"val","type":"quantitative"},"text":{"field":"s"},"size":{"field":"k","type":"ordinal","scale":{"domain":["a","b","c"],"range":[19,21,16]},"legend":null}}}
    ]}
  ],"spacing":0,"bounds":"flush","resolve":{"scale":{"color":"independent","fill":"independent","stroke":"independent","opacity":"independent","size":"independent","strokeDash":"independent"}}},
  {"vconcat":[
   {"width":380.2,"height":214.5,
    "encoding":{"x":{"field":"u","type":"quantitative","scale":{"domain":[-27.6,30],"nice":false,"zero":false},"axis":null},"y":{"field":"v","type":"quantitative","scale":{"domain":[-1.377,29.71],"nice":false,"zero":false},"axis":null}},
    "layer":[
     {"data":{"name":"rings"},"mark":{"type":"arc","theta":-1.5708,"theta2":1.5708,"filled":false,"stroke":"#9b9b9b","strokeWidth":1.2},"encoding":{"radius":{"field":"r","type":"quantitative","scale":{"type":"linear","domain":[0,30],"range":[0,198],"zero":true}},"radius2":{"field":"r"}}},
     {"data":{"values":[{"u":-30,"u2":30,"v":0}]},"mark":{"type":"rule","stroke":"#9b9b9b","strokeWidth":1.2},"encoding":{"x2":{"field":"u2"}}},
     {"data":{"values":[{"u":0,"v":0,"v2":29.71}]},"mark":{"type":"rule","stroke":"#1a1a1a","strokeWidth":1.3},"encoding":{"y2":{"field":"v2"}}},
     {"data":{"name":"hodo"},"mark":{"type":"line","strokeWidth":1.3},"encoding":{"detail":{"field":"tr","type":"nominal"},"order":{"field":"k","type":"quantitative"},"stroke":{"field":"tr","type":"nominal","scale":{"domain":["L1","L2","L3","L4","L5","L6","L7","W1","W2","W3","W4","W5"],"range":["#000000","#1a1a1a","#444444","#666666","#888888","#a0a0a0","#b5b5b5","#000000","#2a2a2a","#777777","#9a9a9a","#b0b0b0"]},"legend":null},"strokeDash":{"field":"src","type":"nominal","scale":{"domain":["L","W"],"range":[[1,0],[4,2.5]]},"legend":null}}},
     {"data":{"name":"hodo"},"transform":[{"filter":"datum.lvl"}],"mark":{"type":"point","filled":true,"size":32,"strokeWidth":0},"encoding":{"fill":{"field":"lvl","type":"nominal","scale":{"domain":["low","mid","up"],"range":["#1a8c2a","#1f1fe0","#e21ec6"]},"legend":null},"opacity":{"field":"tr","type":"ordinal","scale":{"domain":["L1","L2","L3","L4","L5","L6","L7","W1","W2","W3","W4","W5"],"range":[1,1,0.95,0.55,0.5,0.45,0.45,1,1,0.55,0.5,0.45]},"legend":null}}},
     {"data":{"name":"hlab"},"mark":{"type":"text","font":"DejaVu Sans","fontSize":13.5,"color":"#1a1a1a","baseline":"middle"},"encoding":{"text":{"field":"s"}}},
     {"data":{"values":[{"u":9.5,"v":12.56,"s":"-- WoFS"},{"u":9.5,"v":9.03,"s":"-   Lidar"}]},"mark":{"type":"text","fontSize":19,"align":"left","baseline":"middle","color":"#111111"},"encoding":{"text":{"field":"s"}}},
     {"data":{"values":[{"u":22.9,"u2":28.6,"v":20.9,"v2":27.06}]},"mark":{"type":"rect","fill":"white","stroke":"black","strokeWidth":2.5},"encoding":{"x2":{"field":"u2"},"y2":{"field":"v2"}}},
     {"data":{"values":[{"u":25.75,"v":23.98,"s":"C"}]},"mark":{"type":"text","fontSize":22,"baseline":"middle","color":"#111111"},"encoding":{"text":{"field":"s"}}}
    ]},
   {"width":367.8,"height":515.5,"view":{"stroke":"black","strokeWidth":7},
    "layer":[
     {"data":{"name":"ff"},"mark":{"type":"area","color":"#f9b77d","opacity":0.6},
      "encoding":{"x":{"field":"t","type":"quantitative","scale":{"domain":[25.4,100],"nice":false,"zero":false},"axis":{"values":[30,40,50,60,70,80,90,100],"grid":true,"gridOpacity":{"condition":{"test":"datum.value==100","value":0},"value":1},"title":"Minutes after 2000 UTC","tickSize":7,"labelPadding":-2,"titlePadding":2}},
       "y":{"field":"hi","type":"quantitative","scale":{"domain":[0,80],"nice":false,"zero":false},"axis":{"orient":"right","values":[0,10,20,30,40,50,60,70,80],"grid":true,"gridOpacity":{"condition":{"test":"datum.value==0 || datum.value==80","value":0},"value":1},"tickSize":5,"labelPadding":1,"title":null}},
       "y2":{"field":"lo"}}},
     {"data":{"name":"ff"},"mark":{"type":"line","color":"#ff7f0e","strokeWidth":3.5},"encoding":{"x":{"field":"t","type":"quantitative"},"y":{"field":"uh","type":"quantitative"}}},
     {"data":{"name":"ff"},"mark":{"type":"line","color":"#000000","strokeWidth":3.5,"interpolate":"monotone"},"encoding":{"x":{"field":"t","type":"quantitative"},"y":{"field":"rv","type":"quantitative"}}},
     {"data":{"values":[{"t":29.7,"t2":76.4,"y":0.4,"y2":11.4}]},"mark":{"type":"rect","fill":"white","stroke":null},"encoding":{"x":{"field":"t","type":"quantitative"},"x2":{"field":"t2"},"y":{"field":"y","type":"quantitative"},"y2":{"field":"y2"}}},
     {"data":{"values":[{"t":29.1,"y":8.55,"s":"Updraft helicity","k":"o"},{"t":29.1,"y":4.7,"s":"Rotational velocity","k":"b"},{"t":64.2,"y":8.8,"s":"m²/s²","k":"O"},{"t":64.2,"y":4.4,"s":"m/s","k":"B"}]},"mark":{"type":"text","align":"left","baseline":"middle"},"encoding":{"x":{"field":"t","type":"quantitative"},"y":{"field":"y","type":"quantitative"},"text":{"field":"s"},"color":{"field":"k","type":"nominal","scale":{"domain":["o","b","O","B"],"range":["#ff8c1a","#111111","#ff7f0e","#111111"]},"legend":null},"size":{"field":"k","type":"ordinal","scale":{"domain":["o","b","O","B"],"range":[19,19,22,22]},"legend":null}}},
     {"data":{"values":[{"t":90.6,"t2":98.4,"y":73.2,"y2":79.5}]},"mark":{"type":"rect","fill":"white","stroke":"black","strokeWidth":3.5},"encoding":{"x":{"field":"t","type":"quantitative"},"x2":{"field":"t2"},"y":{"field":"y","type":"quantitative"},"y2":{"field":"y2"}}},
     {"data":{"values":[{"t":94.5,"y":76.35,"s":"F"}]},"mark":{"type":"text","baseline":"middle","fontSize":21,"color":"#111111"},"encoding":{"x":{"field":"t","type":"quantitative"},"y":{"field":"y","type":"quantitative"},"text":{"field":"s"}}}
    ]}
  ],"spacing":0,"bounds":"flush","resolve":{"scale":{"color":"independent","fill":"independent","stroke":"independent","opacity":"independent","size":"independent","strokeDash":"independent"}}}
 ],"spacing":-13,"resolve":{"scale":{"color":"independent","fill":"independent","stroke":"independent","opacity":"independent","size":"independent","strokeDash":"independent"}}}
]
}
